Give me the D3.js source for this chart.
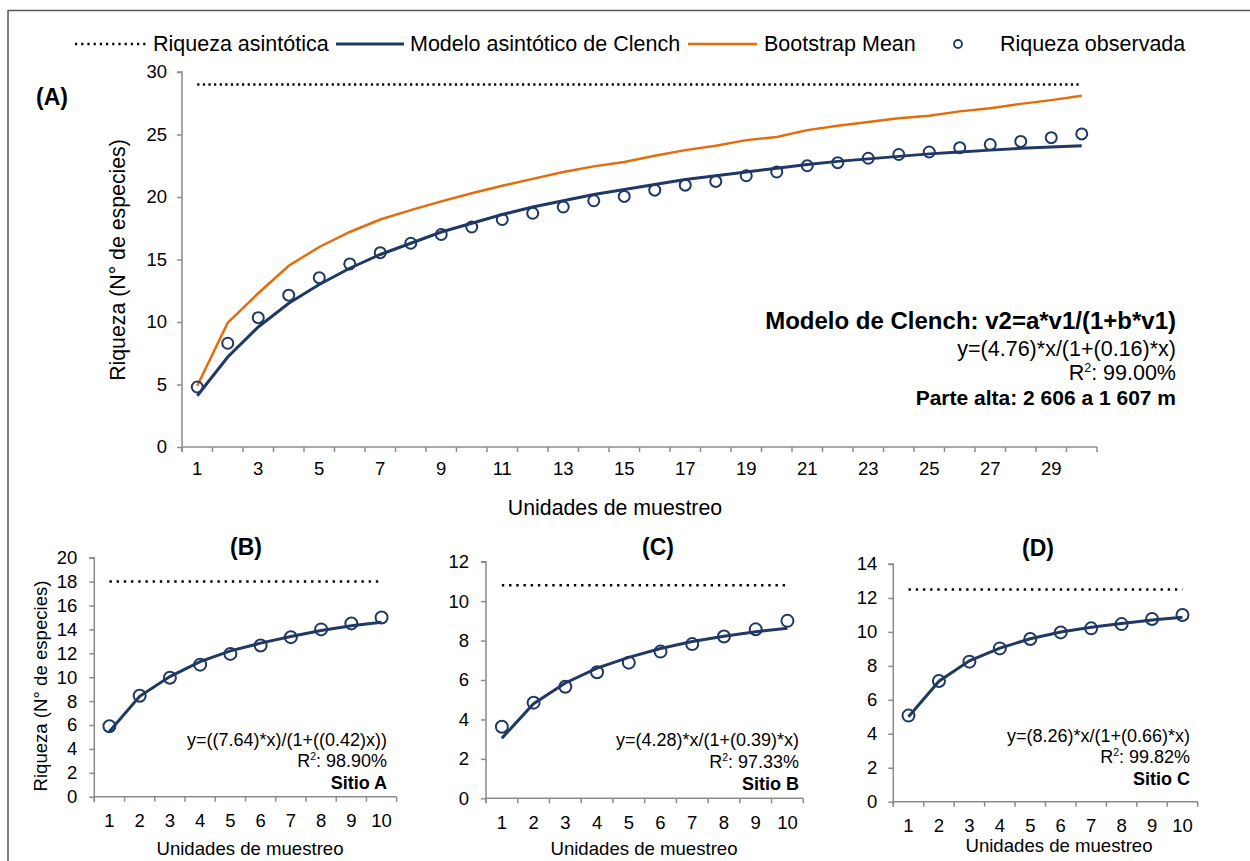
<!DOCTYPE html>
<html><head><meta charset="utf-8">
<script src="https://cdn.jsdelivr.net/npm/d3@7"></script>
<style>
body{margin:0;background:#fff;}
text{font-family:"Liberation Sans",Arial,sans-serif;fill:#000;}
</style></head>
<body>
<svg id="c" width="1250" height="861"></svg>
<script>
// ---------- DATA ----------
const unitsA = d3.range(1, 31);
const observedA = [4.8,8.3,10.35,12.15,13.55,14.65,15.55,16.3,17.0,17.6,18.2,18.7,19.2,19.7,20.05,20.55,20.95,21.25,21.7,22.0,22.5,22.75,23.1,23.4,23.6,23.95,24.2,24.45,24.75,25.05];
const clenchA = [4.1,7.2,9.6,11.5,13.0,14.3,15.4,16.3,17.2,17.9,18.6,19.2,19.7,20.2,20.6,21.0,21.4,21.7,22.0,22.3,22.6,22.85,23.05,23.25,23.45,23.6,23.75,23.9,24.0,24.1];
const bootstrapA = [4.9,9.95,12.3,14.5,16.0,17.2,18.2,18.95,19.65,20.3,20.9,21.45,22.0,22.45,22.8,23.3,23.75,24.1,24.55,24.8,25.35,25.7,26.0,26.3,26.5,26.85,27.1,27.45,27.75,28.1];
const asymptoteA = 29;

const unitsSmall = d3.range(1, 11);
const observedB = [5.9,8.45,9.95,11.05,11.95,12.65,13.35,14.0,14.5,15.0];
const clenchB = [5.45,8.4,10.05,11.3,12.2,12.85,13.4,13.9,14.3,14.6];
const asymptoteB = 18;
const observedC = [3.63,4.85,5.66,6.39,6.88,7.44,7.82,8.21,8.57,9.0];
const clenchC = [3.05,4.8,5.85,6.6,7.15,7.6,7.95,8.22,8.45,8.62];
const asymptoteC = 10.8;
const observedD = [5.07,7.11,8.25,9.03,9.58,9.97,10.21,10.46,10.76,11.0];
const clenchD = [5.0,7.1,8.3,9.05,9.6,10.0,10.28,10.5,10.7,10.87];
const asymptoteD = 12.5;

const legendLabels = ["Riqueza asintótica","Modelo asintótico de Clench","Bootstrap Mean","Riqueza observada"];
const yTicksA = [0,5,10,15,20,25,30];
const yTicksB = [0,2,4,6,8,10,12,14,16,18,20];
const yTicksC = [0,2,4,6,8,10,12];
const yTicksD = [0,2,4,6,8,10,12,14];

// ---------- STYLE ----------
const NAVY = "#1f3864";
const ORANGE = "#e46c0a";
const AXIS = "#8c8c8c";

const svg = d3.select("#c");

// outer frame
svg.append("line").attr("x1",8).attr("x2",1250).attr("y1",10.5).attr("y2",10.5).attr("stroke","#555").attr("stroke-width",1.5);
svg.append("line").attr("x1",8).attr("x2",8).attr("y1",10).attr("y2",861).attr("stroke","#555").attr("stroke-width",1.5);

function panel(cfg){
  const g = svg.append("g");
  const x = d3.scaleBand().domain(cfg.units).range([cfg.x0, cfg.x1]).padding(0);
  const y = d3.scaleLinear().domain([0, cfg.ymax]).range([cfg.yb, cfg.yt]);
  const cx = d => x(d) + x.bandwidth()/2;

  // y axis
  const ya = g.append("g").attr("transform",`translate(${cfg.x0},0)`)
    .call(d3.axisLeft(y).tickValues(cfg.yTicks).tickSize(5).tickPadding(cfg.ypad).tickFormat(d3.format("d")));
  ya.select(".domain").attr("stroke",AXIS).attr("stroke-width",1.5).attr("d",`M-5,${cfg.yt}H0V${cfg.yb+5}`);
  ya.selectAll(".tick line").attr("stroke",AXIS).attr("stroke-width",1.5);
  ya.selectAll(".tick text").attr("font-size",cfg.tickFont).attr("fill","#000").style("font-family","Liberation Sans, Arial, sans-serif");

  // x axis (category axis with ticks at boundaries)
  const xb = g.append("g");
  xb.append("line").attr("x1",cfg.x0).attr("x2",cfg.x1).attr("y1",cfg.yb).attr("y2",cfg.yb).attr("stroke",AXIS).attr("stroke-width",1.5);
  const bounds = cfg.units.map(u => x(u)).concat([cfg.x1]);
  xb.selectAll("line.tk").data(bounds).join("line").attr("class","tk")
    .attr("x1",d=>d).attr("x2",d=>d).attr("y1",cfg.yb).attr("y2",cfg.yb+5).attr("stroke",AXIS).attr("stroke-width",1.5);
  xb.selectAll("text").data(cfg.units.filter(cfg.labelFilter||(()=>true))).join("text")
    .attr("x",cx).attr("y",cfg.xlabY).attr("text-anchor","middle").attr("dominant-baseline","central")
    .attr("font-size",cfg.tickFont).text(d=>d);

  // asymptote
  g.append("line").attr("x1",cx(cfg.units[0])).attr("x2",cx(cfg.units[cfg.units.length-1]))
    .attr("y1",y(cfg.asym)).attr("y2",y(cfg.asym))
    .attr("stroke","#000").attr("stroke-width",cfg.dotW).attr("stroke-dasharray",cfg.dash);

  // bootstrap
  if (cfg.boot){
    g.append("path").datum(cfg.boot).attr("fill","none").attr("stroke",ORANGE).attr("stroke-width",2.5)
      .attr("d", d3.line().x((d,i)=>cx(cfg.units[i])).y(d=>y(d)));
  }
  // clench
  g.append("path").datum(cfg.model).attr("fill","none").attr("stroke",NAVY).attr("stroke-width",3)
    .attr("d", d3.line().x((d,i)=>cx(cfg.units[i])).y(d=>y(d)));
  // observed
  g.selectAll("circle").data(cfg.obs).join("circle")
    .attr("cx",(d,i)=>cx(cfg.units[i])).attr("cy",d=>y(d)).attr("r",cfg.r)
    .attr("fill","none").attr("stroke",NAVY).attr("stroke-width",2);

  // x title
  g.append("text").attr("x",cfg.xtX).attr("y",cfg.xtY).attr("text-anchor","middle").attr("dominant-baseline","central")
    .attr("font-size",cfg.titleFont).text("Unidades de muestreo");
  // y title
  if (cfg.ytX){
    g.append("text").attr("transform",`translate(${cfg.ytX},${cfg.ytY}) rotate(-90)`).attr("text-anchor","middle")
      .attr("dominant-baseline","central").attr("font-size",cfg.titleFont).text("Riqueza (N° de especies)");
  }
  // panel label
  g.append("text").attr("x",cfg.plX).attr("y",cfg.plY).attr("text-anchor",cfg.plAnchor||"middle").attr("dominant-baseline","central")
    .attr("font-size",23).attr("font-weight","bold").text(cfg.label);
  // annotations
  cfg.notes.forEach(n=>{
    const t = g.append("text").attr("x",cfg.noteX).attr("y",n.y).attr("text-anchor","end").attr("dominant-baseline","central")
      .attr("font-size",n.size).attr("font-weight",n.bold?"bold":"normal");
    if (n.r2){
      t.append("tspan").text("R");
      t.append("tspan").attr("font-size",n.size*0.58).attr("dy",-5).text("2");
      t.append("tspan").attr("dy",5).text(n.text);
    } else t.text(n.text);
  });
}

panel({units:unitsA, obs:observedA, model:clenchA, boot:bootstrapA, asym:asymptoteA,
  x0:182, x1:1097, yb:447, yt:72, ymax:30, yTicks:yTicksA, tickFont:18.5, ypad:10, xlabY:468,
  labelFilter:d=>d%2===1, r:5.5, dotW:2.5, dash:"2.2,3.4",
  xtX:615, xtY:508, ytX:118, ytY:260, titleFont:21.3,
  plX:36, plY:97, plAnchor:"start", label:"(A)", noteX:1176,
  notes:[{y:320,size:24,bold:true,text:"Modelo de Clench: v2=a*v1/(1+b*v1)"},
         {y:349,size:21.5,text:"y=(4.76)*x/(1+(0.16)*x)"},
         {y:373,size:21.5,r2:true,text:": 99.00%"},
         {y:397,size:21,bold:true,text:"Parte alta: 2 606 a 1 607 m"}]});

panel({units:unitsSmall, obs:observedB, model:clenchB, asym:asymptoteB,
  x0:94.3, x1:396.7, yb:796.7, yt:557.7, ymax:20, yTicks:yTicksB, tickFont:18.5, ypad:12, xlabY:820,
  r:6, dotW:2.5, dash:"2.4,4.8",
  xtX:250, xtY:848, ytX:40, ytY:686, titleFont:18.6,
  plX:246, plY:547, label:"(B)", noteX:387,
  notes:[{y:739.5,size:18,text:"y=((7.64)*x)/(1+((0.42)x))"},
         {y:761,size:18,r2:true,text:": 98.90%"},
         {y:783,size:18,bold:true,text:"Sitio A"}]});

panel({units:unitsSmall, obs:observedC, model:clenchC, asym:asymptoteC,
  x0:486, x1:803.3, yb:798.3, yt:561.7, ymax:12, yTicks:yTicksC, tickFont:18.5, ypad:12, xlabY:822,
  r:6, dotW:2.5, dash:"2.4,4.8",
  xtX:644, xtY:848, titleFont:18.6,
  plX:658, plY:547, label:"(C)", noteX:799,
  notes:[{y:740,size:18,text:"y=(4.28)*x/(1+(0.39)*x)"},
         {y:762,size:18,r2:true,text:": 97.33%"},
         {y:783.5,size:18,bold:true,text:"Sitio B"}]});

panel({units:unitsSmall, obs:observedD, model:clenchD, asym:asymptoteD,
  x0:893.3, x1:1197.7, yb:801.7, yt:564, ymax:14, yTicks:yTicksD, tickFont:18.5, ypad:11, xlabY:825,
  r:6, dotW:2.5, dash:"2.4,4.8",
  xtX:1059, xtY:845, titleFont:18.6,
  plX:1038, plY:548, label:"(D)", noteX:1190,
  notes:[{y:735.5,size:18,text:"y=(8.26)*x/(1+(0.66)*x)"},
         {y:757,size:18,r2:true,text:": 99.82%"},
         {y:778.5,size:18,bold:true,text:"Sitio C"}]});

// ---------- LEGEND ----------
const lg = svg.append("g");
const LY = 44;
const LF = 21.5;
lg.append("line").attr("x1",75).attr("x2",147).attr("y1",LY).attr("y2",LY).attr("stroke","#000").attr("stroke-width",2.5).attr("stroke-dasharray","2.2,4");
lg.append("text").attr("x",153).attr("y",LY).attr("dominant-baseline","central").attr("font-size",LF).text(legendLabels[0]);
lg.append("line").attr("x1",336).attr("x2",404).attr("y1",LY).attr("y2",LY).attr("stroke",NAVY).attr("stroke-width",3);
lg.append("text").attr("x",410).attr("y",LY).attr("dominant-baseline","central").attr("font-size",LF).text(legendLabels[1]);
lg.append("line").attr("x1",688).attr("x2",757).attr("y1",LY).attr("y2",LY).attr("stroke",ORANGE).attr("stroke-width",2.5);
lg.append("text").attr("x",764).attr("y",LY).attr("dominant-baseline","central").attr("font-size",LF).text(legendLabels[2]);
lg.append("circle").attr("cx",958).attr("cy",LY).attr("r",4).attr("fill","none").attr("stroke",NAVY).attr("stroke-width",1.8);
lg.append("text").attr("x",1000).attr("y",LY).attr("dominant-baseline","central").attr("font-size",LF).text(legendLabels[3]);
</script>
</body></html>
